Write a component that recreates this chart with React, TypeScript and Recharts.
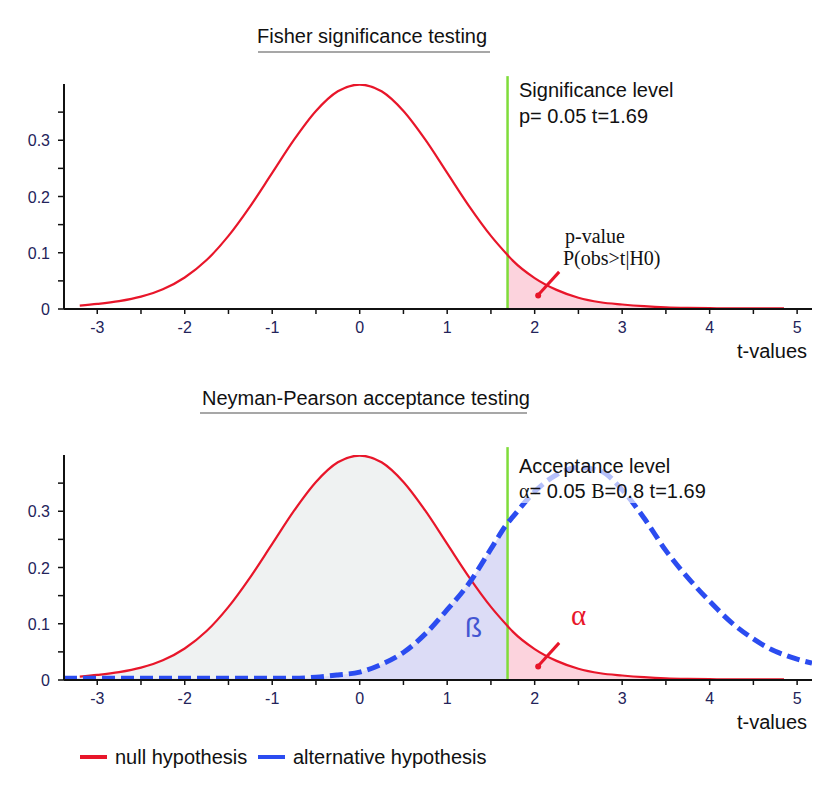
import React from "react";
import {
  Area,
  ComposedChart,
  Line,
  ReferenceDot,
  ReferenceLine,
  XAxis,
  YAxis,
} from "recharts";

// t grid (denser near the cut-off)
const tValues = [
  -3.38, -3.25, -3.2, -3, -2.75, -2.5, -2.25, -2, -1.75, -1.5, -1.25, -1, -0.75, -0.5, -0.25, 0,
  0.25, 0.5, 0.75, 1, 1.25, 1.5, 1.69, 1.75, 2, 2.25, 2.5, 2.75, 3, 3.25, 3.5, 3.75, 4, 4.25, 4.5,
  4.75, 4.85, 5, 5.17,
];

// null hypothesis density (red)
const nullDensity = [
  null, null, 0.006, 0.009, 0.014, 0.022, 0.035, 0.056, 0.087, 0.13, 0.183, 0.242, 0.301, 0.352,
  0.387, 0.399, 0.387, 0.352, 0.301, 0.242, 0.183, 0.13, 0.096, 0.086, 0.055, 0.034, 0.02, 0.012,
  0.008, 0.005, 0.003, 0.002, 0.0015, 0.001, 0.001, 0.001, 0.001, null, null,
];

// alternative hypothesis density (blue dashed)
const altDensity = [
  0.003, 0.003, 0.003, 0.003, 0.003, 0.003, 0.003, 0.003, 0.003, 0.003, 0.003, 0.003, 0.003, 0.005,
  0.009, 0.014, 0.028, 0.049, 0.082, 0.125, 0.172, 0.233, 0.279, 0.29, 0.335, 0.365, 0.378, 0.372,
  0.338, 0.288, 0.23, 0.182, 0.14, 0.102, 0.073, 0.051, 0.045, 0.037, 0.03,
];

const xTicks = [-3, -2.5, -2, -1.5, -1, -0.5, 0, 0.5, 1, 1.5, 2, 2.5, 3, 3.5, 4, 4.5, 5];
const yTicks = [0, 0.05, 0.1, 0.15, 0.2, 0.25, 0.3, 0.35];
const CRIT = 1.69;

const RED = "#e8162a";
const BLUE = "#2b4cf0";
const GREEN = "#7fdc3a";
const PINK = "#fcd3dd";
const GREY = "#eff2f2";
const LAVENDER = "#dcdcf6";
const TICK_TEXT = "#23235a";
const SANS = "'Liberation Sans', Arial, sans-serif";
const SERIF = "'Liberation Serif', 'Times New Roman', serif";

const rows = tValues.map((t, i) => {
  const h0 = nullDensity[i];
  const h1 = altDensity[i];
  return {
    t,
    h0,
    h1,
    h0Left: t <= CRIT ? h0 : null,
    h0Right: t >= CRIT ? h0 : null,
    h1Left: t <= CRIT ? h1 : null,
  };
});

const XTick = (props: any) => {
  const { x, y, payload } = props;
  const v = payload.value;
  if (!Number.isInteger(v)) return <g />;
  return (
    <text x={x} y={y + 17} textAnchor="middle" fontSize={16} fontFamily={SANS} fill={TICK_TEXT}>
      {v < 0 ? `-${Math.abs(v)}` : v}
    </text>
  );
};

const YTick = (props: any) => {
  const { x, y, payload } = props;
  const v = payload.value;
  const scaled = v * 10;
  if (Math.abs(scaled - Math.round(scaled)) > 1e-6) return <g />;
  return (
    <text x={x} y={y + 6} textAnchor="end" fontSize={16} fontFamily={SANS} fill={TICK_TEXT}>
      {v === 0 ? "0" : v.toFixed(1)}
    </text>
  );
};

function DensityPanel({ withAlt }: { withAlt: boolean }) {
  return (
    <ComposedChart
      width={830}
      height={340}
      data={rows}
      margin={{ top: 84, right: 18, bottom: 0, left: 14 }}
    >
      <XAxis
        dataKey="t"
        type="number"
        domain={[-3.38, 5.17]}
        ticks={xTicks}
        allowDataOverflow
        tick={<XTick />}
        tickSize={5}
        tickLine={{ stroke: "#111", strokeWidth: 1.5 }}
        axisLine={{ stroke: "#111", strokeWidth: 2 }}
        height={31}
      />
      <YAxis
        type="number"
        domain={[0, 0.4]}
        ticks={yTicks}
        allowDataOverflow
        tick={<YTick />}
        tickSize={6}
        tickMargin={8}
        tickLine={{ stroke: "#111", strokeWidth: 1.5 }}
        axisLine={{ stroke: "#111", strokeWidth: 2 }}
        width={50}
      />
      {withAlt && (
        <Area
          type="monotone"
          dataKey="h0Left"
          stroke="none"
          fill={GREY}
          fillOpacity={1}
          isAnimationActive={false}
          dot={false}
          activeDot={false}
        />
      )}
      <Area
        type="monotone"
        dataKey="h0Right"
        stroke="none"
        fill={PINK}
        fillOpacity={1}
        isAnimationActive={false}
        dot={false}
        activeDot={false}
      />
      {withAlt && (
        <Area
          type="monotone"
          dataKey="h1Left"
          stroke="none"
          fill={LAVENDER}
          fillOpacity={1}
          isAnimationActive={false}
          dot={false}
          activeDot={false}
        />
      )}
      <ReferenceLine
        segment={[
          { x: CRIT, y: 0 },
          { x: CRIT, y: 0.414 },
        ]}
        ifOverflow="visible"
        stroke={GREEN}
        strokeWidth={2.5}
      />
      <Line
        type="monotone"
        dataKey="h0"
        stroke={RED}
        strokeWidth={2.2}
        dot={false}
        activeDot={false}
        isAnimationActive={false}
      />
      {withAlt && (
        <Line
          type="monotone"
          dataKey="h1"
          stroke={BLUE}
          strokeWidth={5}
          strokeDasharray="13 6"
          dot={false}
          activeDot={false}
          isAnimationActive={false}
        />
      )}
      <ReferenceLine
        segment={[
          { x: 2.04, y: 0.025 },
          { x: 2.28, y: 0.066 },
        ]}
        ifOverflow="visible"
        stroke={RED}
        strokeWidth={3}
      />
      <ReferenceDot x={2.04} y={0.024} r={3} fill={RED} stroke="none" ifOverflow="visible" />
    </ComposedChart>
  );
}

export default function App() {
  const BOTTOM = 371;
  return (
    <div style={{ position: "absolute", left: 0, top: 0, width: 830, height: 792, background: "#fff" }}>
      <div style={{ position: "absolute", left: 0, top: 0 }}>
        <DensityPanel withAlt={false} />
      </div>
      <div style={{ position: "absolute", left: 0, top: BOTTOM }}>
        <DensityPanel withAlt={true} />
      </div>
      <svg
        width={830}
        height={792}
        style={{ position: "absolute", left: 0, top: 0, pointerEvents: "none" }}
        fontFamily={SANS}
      >
        {/* top panel */}
        <text x={257} y={43} fontSize={20} fill="#111">
          Fisher significance testing
        </text>
        <line x1={258} x2={490} y1={52} y2={52} stroke="#8a8a8a" strokeWidth={1.5} />
        <text x={519} y={97} fontSize={20} fill="#111">
          Significance level
        </text>
        <text x={519} y={123} fontSize={20} fill="#111">
          p= 0.05 t=1.69
        </text>
        <text x={565} y={243} fontSize={20} fontFamily={SERIF} fill="#111">
          p-value
        </text>
        <text x={563} y={265} fontSize={20} fontFamily={SERIF} fill="#111">
          P(obs&gt;t|H0)
        </text>
        <text x={737} y={358} fontSize={20} fill="#111">
          t-values
        </text>

        {/* bottom panel */}
        <text x={202} y={405} fontSize={20} fill="#111">
          Neyman-Pearson acceptance testing
        </text>
        <line x1={200} x2={527} y1={413} y2={413} stroke="#8a8a8a" strokeWidth={1.5} />
        <rect x={514} y={455} width={222} height={48} fill="#fff" fillOpacity={0.65} />
        <text x={519} y={473} fontSize={20} fill="#111">
          Acceptance level
        </text>
        <text x={519} y={498} fontSize={20} fill="#111">
          <tspan fontFamily={SERIF}>α</tspan>
          <tspan>= 0.05 </tspan>
          <tspan fontFamily={SERIF}>B</tspan>
          <tspan>=0.8 t=1.69</tspan>
        </text>
        <text x={465} y={637} fontSize={28} fill="#4456d2">
          ß
        </text>
        <text x={571} y={625} fontSize={29} fontFamily={SERIF} fill={RED}>
          α
        </text>
        <text x={737} y={729} fontSize={20} fill="#111">
          t-values
        </text>

        {/* legend */}
        <line x1={80} x2={107} y1={757} y2={757} stroke={RED} strokeWidth={4} />
        <text x={115} y={764} fontSize={20} fill="#111">
          null hypothesis
        </text>
        <line x1={258} x2={285} y1={757} y2={757} stroke={BLUE} strokeWidth={4} />
        <text x={293} y={764} fontSize={20} fill="#111">
          alternative hypothesis
        </text>
      </svg>
    </div>
  );
}
